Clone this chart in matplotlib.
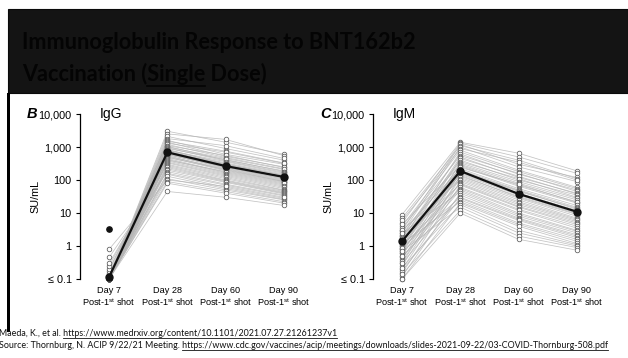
import matplotlib
matplotlib.use('Agg')
import matplotlib.pyplot as plt
from matplotlib.patches import Rectangle
from matplotlib.lines import Line2D

plt.rcParams['font.family'] = ['Liberation Sans', 'DejaVu Sans']
plt.rcParams['mathtext.fontset'] = 'custom'
plt.rcParams['mathtext.rm'] = 'Liberation Sans'
plt.rcParams['mathtext.it'] = 'Liberation Sans:italic'
plt.rcParams['mathtext.bf'] = 'Liberation Sans:bold'

# timepoints
days = ['Day 7', 'Day 28', 'Day 60', 'Day 90']
tick_values = [0.1, 1, 10, 100, 1000, 10000]
tick_labels = ['≤ 0.1', '1', '10', '100', '1,000', '10,000']

# IgG, individual subjects (SU/mL)
igg_d7 = [0.1, 0.1, 0.1, 0.11, 0.1, 0.1, 0.12, 0.1, 0.1, 0.1,
          0.13, 0.1, 0.1, 0.1, 0.1, 0.15, 0.1, 0.1, 0.1, 0.1,
          0.18, 0.1, 0.1, 0.1, 0.2, 0.1, 0.1, 0.1, 0.1, 0.1,
          0.25, 0.1, 0.1, 0.1, 0.1, 0.3, 0.1, 0.1, 0.1, 0.1,
          0.1, 0.45, 0.1, 0.1, 0.1, 0.1, 0.8, 0.1, 0.1, 0.1]
igg_d28 = [3000, 2500, 2100, 1800, 1600, 1500, 1400, 1300, 1200, 1100,
           1050, 1000, 950, 900, 850, 800, 780, 750, 720, 700,
           680, 650, 620, 600, 580, 550, 520, 500, 480, 450,
           420, 400, 380, 350, 330, 300, 280, 260, 240, 220,
           200, 180, 160, 150, 130, 110, 100, 90, 80, 45]
igg_d60 = [1400, 1700, 900, 1100, 600, 750, 520, 700, 480, 560,
           400, 450, 380, 420, 300, 360, 330, 280, 310, 260,
           290, 240, 270, 230, 250, 200, 220, 190, 210, 170,
           160, 180, 150, 140, 130, 120, 110, 100, 95, 90,
           85, 75, 70, 60, 55, 50, 65, 45, 40, 30]
igg_d90 = [600, 550, 400, 450, 300, 330, 250, 320, 220, 240,
           190, 210, 170, 180, 140, 160, 150, 130, 140, 120,
           125, 110, 115, 100, 105, 90, 95, 85, 90, 75,
           70, 80, 65, 60, 55, 50, 48, 45, 42, 40,
           38, 35, 33, 28, 26, 25, 30, 22, 20, 17]
igg_mean = [0.115, 690, 265, 124]
igg_d7_outlier = 3.3

# IgM, individual subjects (SU/mL)
igm_d7 = [9, 5, 3, 7, 2.5, 6, 4, 1.5, 2, 3.5,
          1.2, 0.8, 2.2, 1.8, 0.6, 1, 4.5, 0.5, 1.3, 2.8,
          0.9, 0.4, 1.6, 0.3, 1.1, 0.7, 2, 0.25, 1.4, 0.35,
          3, 0.2, 0.8, 1.7, 0.15, 0.6, 1, 0.45, 2.4, 0.12,
          0.3, 0.9, 0.18, 0.5, 1.2, 0.1, 0.22, 0.7, 0.14, 0.1]
igm_d28 = [1400, 1300, 1200, 1100, 1000, 900, 800, 700, 620, 550,
           500, 450, 400, 360, 330, 300, 280, 260, 240, 220,
           200, 190, 180, 170, 160, 150, 140, 130, 120, 110,
           100, 90, 80, 75, 70, 60, 55, 50, 45, 40,
           35, 30, 28, 25, 22, 20, 18, 15, 12, 10]
igm_d60 = [650, 500, 300, 400, 250, 350, 200, 180, 150, 160,
           120, 130, 100, 110, 90, 80, 70, 65, 75, 55,
           50, 45, 48, 40, 38, 35, 30, 32, 28, 25,
           22, 20, 18, 16, 15, 13, 12, 10, 9, 8,
           7, 6.5, 6, 5, 4.5, 4, 3, 2.5, 2, 1.6]
igm_d90 = [190, 160, 120, 110, 90, 100, 60, 55, 50, 45,
           40, 38, 35, 30, 28, 25, 22, 20, 21, 17,
           15, 14, 13, 12, 11, 10, 9, 9.5, 8, 7,
           6.5, 6, 5.5, 5, 4.5, 4, 3.5, 3, 2.8, 2.5,
           2.2, 2, 1.8, 1.6, 1.4, 1.2, 1.1, 1, 0.9, 0.75]
igm_mean = [1.4, 187, 38, 11]

W, H = 628, 358
fig = plt.figure(figsize=(W / 100, H / 100), dpi=100)
fig.patch.set_facecolor('white')


def px(x, y):
    return x / W, 1 - y / H


def panel(left_px, series, mean, letter, name, outlier=None):
    ax = fig.add_axes([left_px / W, 1 - 285 / H, 227 / W, 177 / H])
    xs = range(len(days))
    for subj in zip(*series):
        ax.plot(xs, subj, color='#b4b4b4', lw=0.55, alpha=0.8, zorder=1)
    for i, col in enumerate(series):
        ax.plot([i] * len(col), col, 'o', ms=3.3, mfc='white', mec='#5a5a5a',
                mew=0.55, zorder=2, clip_on=False)
    if outlier is not None:
        ax.plot([0], [outlier], 'o', ms=3.8, color='#111111', zorder=3)
    ax.plot(xs, mean, '-o', color='#111111', lw=1.6, ms=5, zorder=4, clip_on=False)

    ax.set_yscale('log')
    ax.set_ylim(0.066, 15200)
    ax.set_xlim(-0.5, 3.4)
    ax.set_yticks(tick_values)
    ax.set_yticklabels(tick_labels)
    ax.minorticks_off()
    ax.set_xticks(list(xs))
    ax.set_xticklabels([d + '\nPost-1$^{\\mathrm{st}}$ shot' for d in days],
                       fontsize=6.6, linespacing=1.05)
    ax.tick_params(axis='x', length=0, pad=1)
    ax.tick_params(axis='y', length=3, width=0.8, labelsize=7.8, pad=3)
    for s in ('top', 'right', 'bottom'):
        ax.spines[s].set_visible(False)
    ax.spines['left'].set_bounds(0.1, 10000)
    ax.spines['left'].set_linewidth(0.9)
    ax.set_facecolor('none')
    ax.set_ylabel('SU/mL', fontsize=7.8)
    ax.yaxis.set_label_coords(-0.176, 0.5)

    lx, ly = px(left_px - 53, 114)
    fig.text(lx, ly, letter, fontsize=10.5, fontweight='bold', fontstyle='italic',
             va='center', ha='left')
    nx, ny = px(left_px + 20, 114)
    fig.text(nx, ny, name, fontsize=10, va='center', ha='left')
    return ax


panel(80, [igg_d7, igg_d28, igg_d60, igg_d90], igg_mean, 'B', 'IgG', igg_d7_outlier)
panel(373, [igm_d7, igm_d28, igm_d60, igm_d90], igm_mean, 'C', 'IgM')

# slide title bar and left rule
fig.patches.append(Rectangle(px(8, 93), (W - 8) / W, 84 / H, transform=fig.transFigure,
                             facecolor='#141414', edgecolor='#0a0a0a', lw=0.8, zorder=0))
fig.patches.append(Rectangle(px(7, 332), 3 / W, (332 - 93) / H, transform=fig.transFigure,
                             facecolor='black', edgecolor='none', zorder=0))

renderer = fig.canvas.get_renderer()


def underline(x, y, full, word, rule_color, rule_lw, drop, **kw):
    # draw a rule under `word`, which ends the string `full`
    t_full = fig.text(x, y, full, **kw)
    t_word = fig.text(x, y, word, **kw)
    e_full = t_full.get_window_extent(renderer)
    e_word = t_word.get_window_extent(renderer)
    t_full.remove()
    t_word.remove()
    x1 = e_full.x1
    x0 = x1 - e_word.width
    yb = y * H - drop
    fig.add_artist(Line2D([x0 / W, x1 / W], [yb / H, yb / H], transform=fig.transFigure,
                          color=rule_color, lw=rule_lw))


title_kw = dict(family=['Lato', 'DejaVu Sans'], fontsize=15.6, fontweight='bold',
                color='#040404', va='baseline', ha='left')
tx, ty1 = px(22, 49)
_, ty2 = px(22, 81)
fig.text(tx, ty1, 'Immunoglobulin Response to BNT162b2', **title_kw)
fig.text(tx, ty2, 'Vaccination (Single Dose)', **title_kw)
underline(tx, ty2, 'Vaccination (Single', 'Single', '#040404', 1.2, 5, **title_kw)

foot_kw = dict(family=['Lato', 'DejaVu Sans'], fontsize=6.4, color='#111111',
               va='baseline', ha='left')
fx, fy1 = px(-1, 336)
_, fy2 = px(-1, 348)
foot1 = 'Maeda, K., et al. '
url1 = 'https://www.medrxiv.org/content/10.1101/2021.07.27.21261237v1'
foot2 = 'Source: Thornburg, N. ACIP 9/22/21 Meeting. '
url2 = 'https://www.cdc.gov/vaccines/acip/meetings/downloads/slides-2021-09-22/03-COVID-Thornburg-508.pdf'
fig.text(fx, fy1, foot1 + url1, **foot_kw)
fig.text(fx, fy2, foot2 + url2, **foot_kw)
underline(fx, fy1, foot1 + url1, url1, '#111111', 0.6, 2, **foot_kw)
underline(fx, fy2, foot2 + url2, url2, '#111111', 0.6, 2, **foot_kw)

fig.savefig('out.png', dpi=100, facecolor='white')
